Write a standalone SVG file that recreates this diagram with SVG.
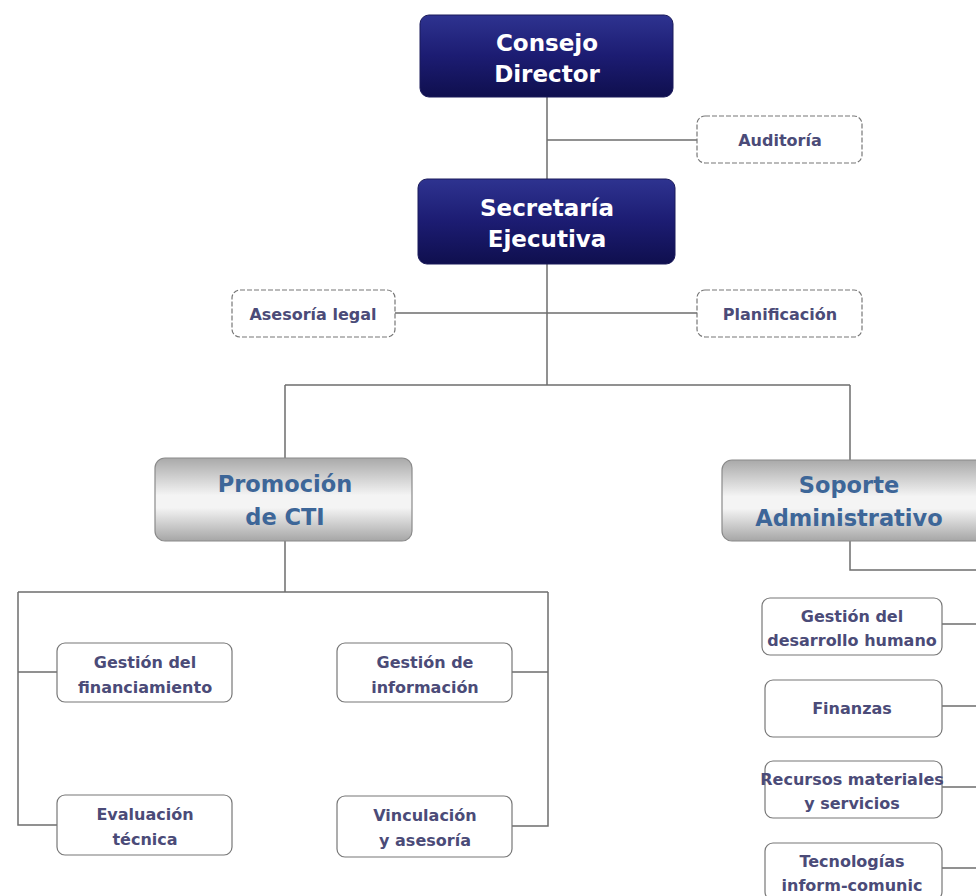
<svg xmlns="http://www.w3.org/2000/svg" width="976" height="896" viewBox="0 0 976 896">
<defs>
<linearGradient id="navy" x1="0" y1="0" x2="0" y2="1">
<stop offset="0" stop-color="#2e3390"/>
<stop offset="0.5" stop-color="#1c1c72"/>
<stop offset="1" stop-color="#0f0f4e"/>
</linearGradient>
<linearGradient id="gray" x1="0" y1="0" x2="0" y2="1">
<stop offset="0" stop-color="#a9a9a9"/>
<stop offset="0.45" stop-color="#f4f4f4"/>
<stop offset="0.6" stop-color="#f4f4f4"/>
<stop offset="1" stop-color="#a6a6a6"/>
</linearGradient>
</defs>
<style>
.navy{fill:url(#navy);stroke:#1a1a5a;stroke-width:1}
.gray{fill:url(#gray);stroke:#8a8a8a;stroke-width:1.2}
.dash{fill:#fff;stroke:#777;stroke-width:1.2;stroke-dasharray:5 2}
.box{fill:#fff;stroke:#777;stroke-width:1.2}
.wt{font-family:"DejaVu Sans",sans-serif;font-weight:bold;font-size:23px;fill:#fff;text-anchor:middle}
.bt{font-family:"DejaVu Sans",sans-serif;font-weight:bold;font-size:22.5px;fill:#3d6698;text-anchor:middle}
.st{font-family:"DejaVu Sans",sans-serif;font-weight:bold;font-size:16px;fill:#4b4b78;text-anchor:middle}
.ln{fill:none;stroke:#6e6e6e;stroke-width:1.5}
</style>
<rect width="976" height="896" fill="#fff"/>
<g id="connectors">
<path class="ln" d="M547 97V179M547 140H697"/>
<path class="ln" d="M547 264V385M395 313H697"/>
<path class="ln" d="M285 385H850M285 385V458M850 385V460"/>
<path class="ln" d="M285 541V592M18 592H548M18 592V825H57M18 672H57M548 592V826H512M548 672H512"/>
<path class="ln" d="M850 541V570H976M942 624H976M942 706H976M942 787H976M942 868H976"/>
</g>
<g id="consejo">
<rect class="navy" x="420" y="15" width="253" height="82" rx="9"/>
<text class="wt" x="547" y="51">Consejo</text>
<text class="wt" x="547" y="82">Director</text>
</g>
<g id="auditoria">
<rect class="dash" x="697" y="116" width="165" height="47" rx="8"/>
<text class="st" x="780" y="146">Auditoría</text>
</g>
<g id="secretaria">
<rect class="navy" x="418" y="179" width="257" height="85" rx="9"/>
<text class="wt" x="547" y="216">Secretaría</text>
<text class="wt" x="547" y="247">Ejecutiva</text>
</g>
<g id="asesoria">
<rect class="dash" x="232" y="290" width="163" height="47" rx="8"/>
<text class="st" x="313" y="320">Asesoría legal</text>
</g>
<g id="planificacion">
<rect class="dash" x="697" y="290" width="165" height="47" rx="8"/>
<text class="st" x="780" y="320">Planificación</text>
</g>
<g id="promocion">
<rect class="gray" x="155" y="458" width="257" height="83" rx="10"/>
<text class="bt" x="285" y="492">Promoción</text>
<text class="bt" x="285" y="525">de CTI</text>
</g>
<g id="soporte">
<rect class="gray" x="722" y="460" width="264" height="81" rx="10"/>
<text class="bt" x="849" y="493">Soporte</text>
<text class="bt" x="849" y="526">Administrativo</text>
</g>
<g id="financiamiento">
<rect class="box" x="57" y="643" width="175" height="59" rx="8"/>
<text class="st" x="145" y="668">Gestión del</text>
<text class="st" x="145" y="693">financiamiento</text>
</g>
<g id="evaluacion">
<rect class="box" x="57" y="795" width="175" height="60" rx="8"/>
<text class="st" x="145" y="820">Evaluación</text>
<text class="st" x="145" y="845">técnica</text>
</g>
<g id="informacion">
<rect class="box" x="337" y="643" width="175" height="59" rx="8"/>
<text class="st" x="425" y="668">Gestión de</text>
<text class="st" x="425" y="693">información</text>
</g>
<g id="vinculacion">
<rect class="box" x="337" y="796" width="175" height="61" rx="8"/>
<text class="st" x="425" y="821">Vinculación</text>
<text class="st" x="425" y="846">y asesoría</text>
</g>
<g id="desarrollo">
<rect class="box" x="762" y="598" width="180" height="57" rx="8"/>
<text class="st" x="852" y="622">Gestión del</text>
<text class="st" x="852" y="646">desarrollo  humano</text>
</g>
<g id="finanzas">
<rect class="box" x="765" y="680" width="177" height="57" rx="8"/>
<text class="st" x="852" y="714">Finanzas</text>
</g>
<g id="recursos">
<rect class="box" x="765" y="761" width="177" height="57" rx="8"/>
<text class="st" x="852" y="785">Recursos materiales</text>
<text class="st" x="852" y="809">y servicios</text>
</g>
<g id="tecnologias">
<rect class="box" x="765" y="843" width="177" height="57" rx="8"/>
<text class="st" x="852" y="867">Tecnologías</text>
<text class="st" x="852" y="891">inform-comunic</text>
</g>
</svg>
